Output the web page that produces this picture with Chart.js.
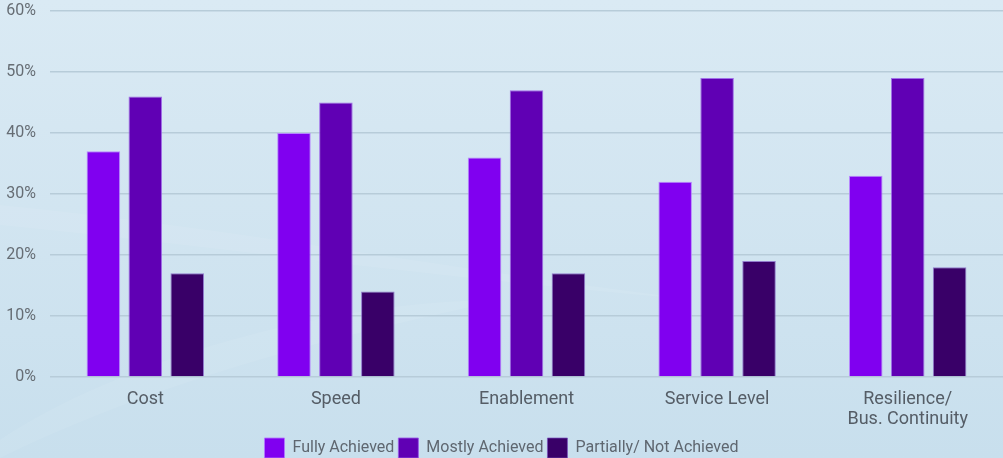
<!DOCTYPE html>
<html>
<head>
<meta charset="utf-8">
<script src="https://cdn.jsdelivr.net/npm/chart.js@4.4.1/dist/chart.umd.min.js"></script>
<style>
  html, body { margin: 0; padding: 0; background: #d3e6f1; }
  #wrap { width: 1003px; height: 458px; position: relative; }
</style>
</head>
<body>
<div id="wrap"><canvas id="chart" width="1003" height="458"></canvas></div>
<script>
const categories = ['Cost', 'Speed', 'Enablement', 'Service Level', ['Resilience/', 'Bus. Continuity']];
const fullyAchieved = [37, 40, 36, 32, 33];
const mostlyAchieved = [46, 45, 47, 49, 49];
const partiallyNotAchieved = [17, 14, 17, 19, 18];
const yTicks = [0, 10, 20, 30, 40, 50, 60];

const FONT = 'Roboto, "Liberation Sans", sans-serif';

// Soft blue backdrop with faint light sweeps
const backdrop = {
  id: 'backdrop',
  beforeDraw(chart) {
    const { ctx, width, height } = chart;
    ctx.save();
    const g = ctx.createLinearGradient(0, 0, 0, height);
    g.addColorStop(0, '#daeaf4');
    g.addColorStop(1, '#c8dfed');
    ctx.fillStyle = g;
    ctx.fillRect(0, 0, width, height);
    ctx.globalAlpha = 0.07;
    ctx.fillStyle = '#ffffff';
    ctx.beginPath();
    ctx.moveTo(0, 440);
    ctx.bezierCurveTo(120, 360, 330, 300, 500, 300);
    ctx.bezierCurveTo(420, 320, 200, 360, 0, 458);
    ctx.closePath();
    ctx.fill();
    ctx.beginPath();
    ctx.moveTo(0, 205);
    ctx.bezierCurveTo(250, 230, 450, 270, 700, 300);
    ctx.bezierCurveTo(450, 280, 250, 250, 0, 225);
    ctx.closePath();
    ctx.fill();
    ctx.restore();
  }
};

new Chart(document.getElementById('chart'), {
  type: 'bar',
  data: {
    labels: categories,
    datasets: [
      { label: 'Fully Achieved', data: fullyAchieved, backgroundColor: '#8000f0', borderColor: 'rgba(178,120,255,0.85)', borderWidth: 1 },
      { label: 'Mostly Achieved', data: mostlyAchieved, backgroundColor: '#6000b4', borderColor: 'rgba(150,90,230,0.85)', borderWidth: 1 },
      { label: 'Partially/ Not Achieved', data: partiallyNotAchieved, backgroundColor: '#390068', borderColor: 'rgba(120,80,190,0.7)', borderWidth: 1 }
    ]
  },
  options: {
    responsive: false,
    animation: false,
    devicePixelRatio: 1,
    categoryPercentage: 0.66,
    barPercentage: 0.8,
    layout: { padding: { top: 11, right: 0, left: 0, bottom: -10 } },
    plugins: {
      legend: {
        position: 'bottom',
        labels: {
          boxWidth: 20,
          boxHeight: 20,
          padding: 4,
          color: '#5f6770',
          font: { family: FONT, size: 16 }
        }
      },
      tooltip: { enabled: false }
    },
    scales: {
      x: {
        afterFit(scale) { scale.height = 57; },
        grid: { display: false, drawTicks: false },
        border: { display: false },
        ticks: { color: '#555d66', font: { family: FONT, size: 18, lineHeight: 1.08 }, padding: 13, maxRotation: 0 }
      },
      y: {
        min: 0,
        max: 60,
        afterFit(scale) { scale.width = 50; scale.paddingTop = 0; },
        afterBuildTicks(scale) { scale.ticks = yTicks.map(v => ({ value: v })); },
        grid: { color: '#b7ccd9', lineWidth: 1.5, drawTicks: false },
        border: { display: false },
        ticks: {
          color: '#666d74',
          font: { family: FONT, size: 16 },
          padding: 14,
          callback: v => v + '%'
        }
      }
    }
  },
  plugins: [backdrop]
});
</script>
</body>
</html>
